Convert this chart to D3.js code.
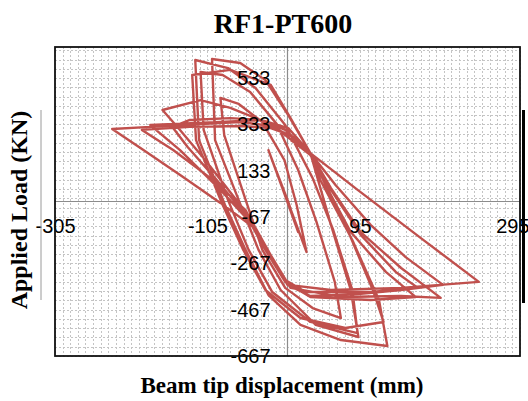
<!DOCTYPE html>
<html>
<head>
<meta charset="utf-8">
<script src="https://cdn.jsdelivr.net/npm/d3@7"></script>
<style>
  body { margin: 0; background: #fff; }
  svg { display: block; font-family: 'Liberation Serif', 'Times New Roman', serif; }
  .axis text { font-size: 20px; fill: #000; }
</style>
</head>
<body>
<svg id="chart"></svg>
<script>
// Tick labels on both axes
const xTickValues = [-305, -105, 95, 295];
const yTickValues = [-667, -467, -267, -67, 133, 333, 533];

// Load record as [beam tip displacement (mm), load (kN)], in test order
// first small elastic cycles
const elasticCycles = [
  [0, 2], [-14, 127], [1, -2], [14, -132], [-1, 6], [-25, 222], [1, -6], [25, -218], [12, -15]
];

// cycles that reach the highest loads (top and bottom clusters)
const peakLoadCycles = [
  [-4, 179], [-33, 343], [-64, 421], [-88, 447], [-83, 287], [-57, 28], [-33, -209], [-3, -373], [33, -460], [70, -503],
  [62, -347], [38, -88], [14, 136], [-14, 334], [-49, 473], [-85, 546], [-114, 559],
  [-110, 309], [-78, 6], [-51, -209], [-20, -391], [30, -520], [92, -568],
  [85, -382], [60, -123], [33, 101], [-3, 330], [-42, 490], [-78, 576], [-121, 611],
  [-116, 265], [-82, -15], [-55, -209], [-25, -404], [17, -533], [70, -598], [131, -624],
  [120, -425], [85, -166], [43, 93], [30, 209], [1, 373], [-29, 524], [-62, 598], [-99, 615],
  [-95, 265], [-64, 6], [-38, -209], [-9, -382], [37, -533], [93, -585],
  [83, -382], [57, -101], [30, 209], [4, 360], [-22, 503], [-75, 568], [-125, 546],
  [-120, 265], [-85, -15], [-58, -209], [-29, -382], [17, -503], [76, -546], [126, -520],
  [112, -382], [76, -101], [30, 209], [-3, 309], [-35, 352], [-75, 360], [-128, 352], [-151, 322]
];

// wide, flag-shaped cycles at lower load
const wideCycles = [
  [-131, 235], [-95, 101], [-55, -58], [-29, -201], [-3, -339], [24, -391], [109, -391], [171, -373],
  [142, -304], [96, -144], [57, 50], [30, 200], [-3, 287], [-29, 343], [-75, 404], [-114, 438], [-164, 395],
  [-141, 309], [-108, 179], [-62, -15], [-29, -209], [-3, -347], [30, -412], [109, -425], [168, -412],
  [129, -304], [83, -132], [50, 71], [30, 209], [4, 287], [-22, 317], [-62, 326], [-128, 322], [-191, 309],
  [-150, 222], [-101, 101], [-55, -37], [-29, -209], [0, -360], [30, -408], [96, -399], [149, -382], [204, -360],
  [155, -240], [109, -101], [63, 71], [30, 209], [4, 283], [-22, 326], [-62, 343], [-114, 334], [-180, 322], [-230, 313],
  [-189, 222], [-137, 106], [-88, -6], [-45, -110], [-25, -218], [1, -360], [57, -382], [149, -373], [251, -347],
  [175, -158], [92, 50], [30, 209], [1, 317], [-35, 352], [-88, 343], [-180, 330],
  [-141, 222], [-88, 50], [-42, -114], [-22, -231], [4, -373], [70, -412], [149, -408], [201, -416],
  [149, -287], [96, -132], [57, 58], [30, 209], [4, 265]
];

const config = {
  width: 528,
  height: 401,
  margin: {top: 47, right: 8, bottom: 45, left: 55},
  lineColor: '#c0504d'
};

const svg = d3.select('#chart')
  .attr('width', config.width)
  .attr('height', config.height);

const innerW = config.width - config.margin.left - config.margin.right;
const innerH = config.height - config.margin.top - config.margin.bottom;

const xScale = d3.scaleLinear()
  .domain([-305, 305])
  .range([config.margin.left, config.margin.left + innerW]);

const yScale = d3.scaleLinear()
  .domain([-667, 667])
  .range([config.margin.top + innerH, config.margin.top]);

// Dotted minor grid, Excel style
const grid = svg.append('g').attr('class', 'grid')
  .attr('stroke', '#c4c4c4')
  .attr('stroke-width', 1)
  .attr('stroke-dasharray', '2,2');

grid.selectAll('.vgrid')
  .data(d3.range(-305, 306, 10))
  .join('line')
  .attr('class', 'vgrid')
  .attr('x1', d => Math.round(xScale(d)) + 0.5)
  .attr('x2', d => Math.round(xScale(d)) + 0.5)
  .attr('y1', yScale(667))
  .attr('y2', yScale(-667));

grid.selectAll('.hgrid')
  .data(d3.range(-667, 668, 40))
  .join('line')
  .attr('class', 'hgrid')
  .attr('y1', d => Math.round(yScale(d)) + 0.5)
  .attr('y2', d => Math.round(yScale(d)) + 0.5)
  .attr('x1', xScale(-305))
  .attr('x2', xScale(305));

// Zero lines
svg.append('line')
  .attr('x1', xScale(-305)).attr('x2', xScale(305))
  .attr('y1', yScale(0)).attr('y2', yScale(0))
  .attr('stroke', '#8c8c8c').attr('stroke-width', 1.2);
svg.append('line')
  .attr('x1', xScale(0)).attr('x2', xScale(0))
  .attr('y1', yScale(667)).attr('y2', yScale(-667))
  .attr('stroke', '#8c8c8c').attr('stroke-width', 1.2);

// The load-displacement loops, one continuous record
const points = elasticCycles.concat(peakLoadCycles, wideCycles);
svg.append('path')
  .datum(points)
  .attr('fill', 'none')
  .attr('stroke', config.lineColor)
  .attr('stroke-width', 2.4)
  .attr('stroke-linejoin', 'round')
  .attr('d', d3.line().x(d => xScale(d[0])).y(d => yScale(d[1])));

// Axes: only labels, placed around the zero lines
const xAxis = d3.axisBottom(xScale)
  .tickValues(xTickValues)
  .tickSize(0)
  .tickPadding(17)
  .tickFormat(d => String(d));
const yAxis = d3.axisLeft(yScale)
  .tickValues(yTickValues)
  .tickSize(0)
  .tickPadding(17)
  .tickFormat(d => String(d));

svg.append('g')
  .attr('class', 'axis x-axis')
  .attr('transform', `translate(0,${yScale(0)})`)
  .call(xAxis)
  .call(g => g.select('.domain').remove())
  .selectAll('text').attr('font-family', null).attr('font-size', null);

svg.append('g')
  .attr('class', 'axis y-axis')
  .attr('transform', `translate(${xScale(0)},0)`)
  .call(yAxis)
  .call(g => g.select('.domain').remove())
  .selectAll('text').attr('font-family', null).attr('font-size', null);

// Plot frame
svg.append('rect')
  .attr('x', xScale(-305)).attr('y', yScale(667))
  .attr('width', innerW).attr('height', innerH)
  .attr('fill', 'none')
  .attr('stroke', '#111')
  .attr('stroke-width', 1.8);

// Edge marks left over from the source scan
svg.append('line')
  .attr('x1', 41).attr('x2', 41).attr('y1', 110).attr('y2', 300)
  .attr('stroke', '#9a9a9a').attr('stroke-width', 1);
svg.append('line')
  .attr('x1', 523.5).attr('x2', 523.5).attr('y1', 110).attr('y2', 303)
  .attr('stroke', '#000').attr('stroke-width', 3);

// Titles
svg.append('text')
  .attr('x', 283).attr('y', 33)
  .attr('text-anchor', 'middle')
  .attr('font-size', 28).attr('font-weight', 'bold')
  .text('RF1-PT600');

svg.append('text')
  .attr('x', 282).attr('y', 393)
  .attr('text-anchor', 'middle')
  .attr('font-size', 23).attr('font-weight', 'bold')
  .text('Beam tip displacement (mm)');

svg.append('text')
  .attr('transform', 'translate(27,210) rotate(-90)')
  .attr('text-anchor', 'middle')
  .attr('font-size', 24).attr('font-weight', 'bold')
  .text('Applied Load (KN)');
</script>
</body>
</html>
